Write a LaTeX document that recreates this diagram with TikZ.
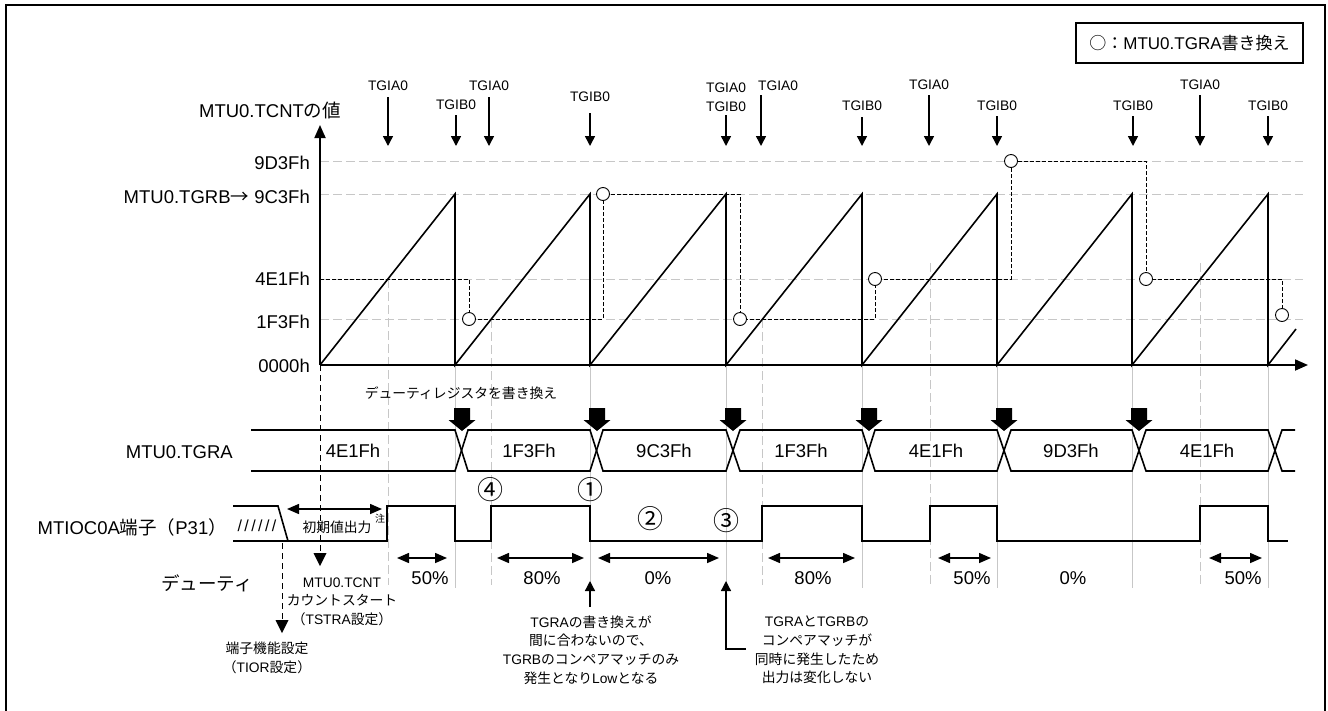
\documentclass[tikz,border=0pt]{standalone}
\usepackage{fontspec}
\setmainfont{Liberation Sans}
\newfontfamily\jafont{Noto Sans CJK JP}
\usetikzlibrary{arrows.meta}
\newcommand\ja[1]{{\jafont #1}}
\newcommand\szL{\fontsize{18.5}{21}\selectfont}
\newcommand\szM{\fontsize{17}{19}\selectfont}
\newcommand\szS{\fontsize{13.8}{18.6}\selectfont}
\newcommand\szN{\fontsize{26}{28}\selectfont}
\tikzset{
  gridln/.style={draw=black!22, line width=1pt, dash pattern=on 9pt off 4pt},
  peakln/.style={draw=black!22, line width=1pt},
  trace/.style={draw=black, line width=0.9pt, dash pattern=on 4pt off 2pt},
  wave/.style={draw=black, line width=1.6pt, line join=miter},
  axisln/.style={draw=black, line width=1.8pt, -{Triangle[width=11pt,length=13pt]}},
  tgrc/.style={circle, draw, fill=white, line width=0.9pt, minimum size=13pt, inner sep=0pt},
  irq/.style={draw, line width=1.5pt, -{Triangle[width=10pt,length=10pt]}},
  dutyarr/.style={draw, line width=1.5pt, {Triangle[width=10pt,length=12pt]}-{Triangle[width=10pt,length=12pt]}},
  txtL/.style={font=\szL, inner sep=0pt},
  txtS/.style={font=\szS, inner sep=0pt},
  numc/.style={font=\szN, inner sep=0pt},
  startln/.style={draw=black, line width=1pt, dash pattern=on 6pt off 4pt},
}
\begin{document}
\begin{tikzpicture}[x=1pt,y=-1pt]
\useasboundingbox (0,0) rectangle (1328,710);
% frame
\draw[line width=2.2pt] (6,712) -- (6,5) -- (1325,5) -- (1325,712);
% legend
\node[draw, line width=1.1pt, minimum width=227pt, minimum height=40pt, inner sep=0pt, font=\szM] (legend) at (1189.5,43) {\ja{○：}MTU0.TGRA\ja{書き換え}};

% grid lines
\foreach \yy in {161,194,279,319} \draw[gridln] (320,\yy) -- (1303,\yy);
% compare-match lines
\draw[gridln] (388,279) -- (388,585);
\draw[gridln] (491,319) -- (491,585);
\draw[gridln] (762,319) -- (762,585);
\draw[gridln] (930,263) -- (930,585);
\draw[gridln] (1200,263) -- (1200,585);
% period lines
\foreach \xx in {455,590,726,862,997,1132,1268} \draw[peakln] (\xx,365) -- (\xx,588);

% coordinates
\coordinate (origin) at (320,365);
\coordinate (ytip) at (320,125);
\coordinate (xtip) at (1308,365);

% TGRA trace
\draw[trace] (320,279) -- (469,279) -- (469,319) -- (603,319) -- (603,194) -- (740,194) -- (740,319) -- (875,319) -- (875,279) -- (1011,279) -- (1011,161) -- (1146,161) -- (1146,279) -- (1282,279) -- (1282,315);
\foreach \xx/\yy [count=\i] in {469/319, 603/194, 740/319, 875/279, 1011/161, 1146/279, 1282/315}
  \node[tgrc] (c\i) at (\xx,\yy) {};

% sawtooth
\draw[wave] (origin) -- (455,194) -- (455,365) -- (590,194) -- (590,365) -- (726,194) -- (726,365) -- (862,194) -- (862,365) -- (997,194) -- (997,365) -- (1132,194) -- (1132,365) -- (1268,194) -- (1268,365) -- (1296,329);
% axes
\draw[axisln] (origin) -- (ytip);
\draw[axisln] (origin) -- (xtip);

% y labels
\node[txtL] (ylab) at (270,110) {MTU0.TCNT\ja{の値}};
\node[txtL, anchor=east] (l9d3f) at (310,163) {9D3Fh};
\node[txtL, anchor=east] (l9c3f) at (310,197) {MTU0.TGRB\ja{→} 9C3Fh};
\node[txtL, anchor=east] (l4e1f) at (310,279) {4E1Fh};
\node[txtL, anchor=east] (l1f3f) at (310,322) {1F3Fh};
\node[txtL, anchor=east] (l0000) at (310,366) {0000h};

% interrupt labels and arrows
\foreach \xx/\ly/\ay/\tx [count=\i] in {388/86/97/TGIA0, 456/105/115/TGIB0, 489/86/97/TGIA0, 590/97/113/TGIB0, 862/106/117/TGIB0, 929/85/95/TGIA0, 997/106/116/TGIB0, 1133/106/116/TGIB0, 1200/85/95/TGIA0, 1268/106/116/TGIB0}{
  \node[txtS] (tg\i) at (\xx,\ly) {\tx};
  \draw[irq] (\xx,\ay) -- (\xx,146);
}
\node[txtS, align=center] (tgab) at (726,97) {TGIA0\\TGIB0};
\draw[irq] (726,115) -- (726,146);
\node[txtS, anchor=west] (tga4) at (758,86) {TGIA0};
\draw[irq] (761,95) -- (761,146);

% duty register rewrite
\node[txtS] (dutyreg) at (461,393) {\ja{デューティレジスタを書き換え}};
\foreach \xx in {462,597,733,869,1004,1139}
  \fill (\xx-8,408) -- (\xx+8,408) -- (\xx+8,420) -- (\xx+13.5,420) -- (\xx,431) -- (\xx-13.5,420) -- (\xx-8,420) -- cycle;

% TGRA bus
\node[txtL, anchor=east] (tgralab) at (233,452) {MTU0.TGRA};
\draw[wave] (251,430) -- (455,430) -- (468,471) -- (590,471) -- (603,430) -- (726,430) -- (740,471) -- (862,471) -- (875,430) -- (997,430) -- (1011,471) -- (1132,471) -- (1146,430) -- (1268,430) -- (1282,471) -- (1295,471);
\draw[wave] (251,471) -- (455,471) -- (468,430) -- (590,430) -- (603,471) -- (726,471) -- (740,430) -- (862,430) -- (875,471) -- (997,471) -- (1011,430) -- (1132,430) -- (1146,471) -- (1268,471) -- (1282,430) -- (1295,430);
\foreach \xx/\tx [count=\i] in {353/4E1Fh, 529/1F3Fh, 664/9C3Fh, 801/1F3Fh, 936/4E1Fh, 1071/9D3Fh, 1207/4E1Fh}
  \node[txtL, fill=white, inner sep=1pt] (bv\i) at (\xx,451) {\tx};

% start lines
\draw[startln] (origin) -- (320,553);
\fill (313.5,553) -- (326.5,553) -- (320,566) -- cycle;
\draw[startln] (282,543) -- (282,620);
\fill (275.5,620) -- (288.5,620) -- (282,633) -- cycle;

% P31 signal
\node[txtL, anchor=east] (p31lab) at (227,527) {MTIOC0A\ja{端子（}P31\ja{）}};
\draw[wave] (233,506) -- (278,506) -- (288,541);
\draw[wave] (233,541) -- (387,541) -- (387,506) -- (455,506) -- (455,541) -- (491,541) -- (491,506) -- (590,506) -- (590,541) -- (762,541) -- (762,506) -- (862,506) -- (862,541) -- (930,541) -- (930,506) -- (997,506) -- (997,541) -- (1200,541) -- (1200,506) -- (1268,506) -- (1268,541) -- (1288,541);
\node[font=\fontsize{16}{18}\selectfont, inner sep=0pt] (hatch) at (257,526) {/\kern2.4pt/\kern2.4pt/\kern2.4pt/\kern2.4pt/\kern2.4pt/};
\draw[dutyarr] (287,509) -- (382,509);
\node[txtS] (init) at (337,527) {\ja{初期値出力}};
\node[font=\fontsize{10}{11}\selectfont\jafont, inner sep=0pt] (note) at (380,519) {注};

% circled numbers
\node[numc] (n4) at (490,490) {\ja{④}};
\node[numc] (n1) at (590,490) {\ja{①}};
\node[numc] (n2) at (650,519) {\ja{②}};
\node[numc] (n3) at (726,521) {\ja{③}};

% duty
\node[txtL, anchor=east] (dutylab) at (253,583) {\ja{デューティ}};
\draw[dutyarr] (397,558) -- (447,558);
\node[txtL] (d1) at (430,578) {50\%};
\draw[dutyarr] (497,558) -- (584,558);
\node[txtL] (d2) at (542,578) {80\%};
\draw[dutyarr] (598,558) -- (719,558);
\node[txtL] (d3) at (658,578) {0\%};
\draw[dutyarr] (768,558) -- (855,558);
\node[txtL] (d4) at (813,578) {80\%};
\draw[dutyarr] (938,558) -- (991,558);
\node[txtL] (d5) at (972,578) {50\%};
\node[txtL] (d6) at (1073,578) {0\%};
\draw[dutyarr] (1209,558) -- (1262,558);
\node[txtL] (d7) at (1243,578) {50\%};

% start notes
\node[txtS, align=center] (tcntnote) at (342,601.5) {MTU0.TCNT\\\ja{カウントスタート}\\\ja{（}TSTRA\ja{設定）}};
\node[txtS, align=center] (tiornote) at (267,658) {\ja{端子機能設定}\\\ja{（}TIOR\ja{設定）}};

% callouts
\draw[line width=1.3pt, -{Triangle[width=10pt,length=10pt]}] (590,607) -- (590,581);
\node[txtS, align=center] (note1) at (591,650) {TGRA\ja{の書き換えが}\\\ja{間に合わないので、}\\TGRB\ja{のコンペアマッチのみ}\\\ja{発生となり}Low\ja{となる}};
\coordinate (n3end) at (746,649);
\draw[line width=1.3pt, -{Triangle[width=10pt,length=10pt]}] (n3end) -- (726,649) -- (726,581);
\node[txtS, align=center] (note3) at (817,650) {TGRA\ja{と}TGRB\ja{の}\\\ja{コンペアマッチが}\\\ja{同時に発生したため}\\\ja{出力は変化しない}};
\end{tikzpicture}
\end{document}
